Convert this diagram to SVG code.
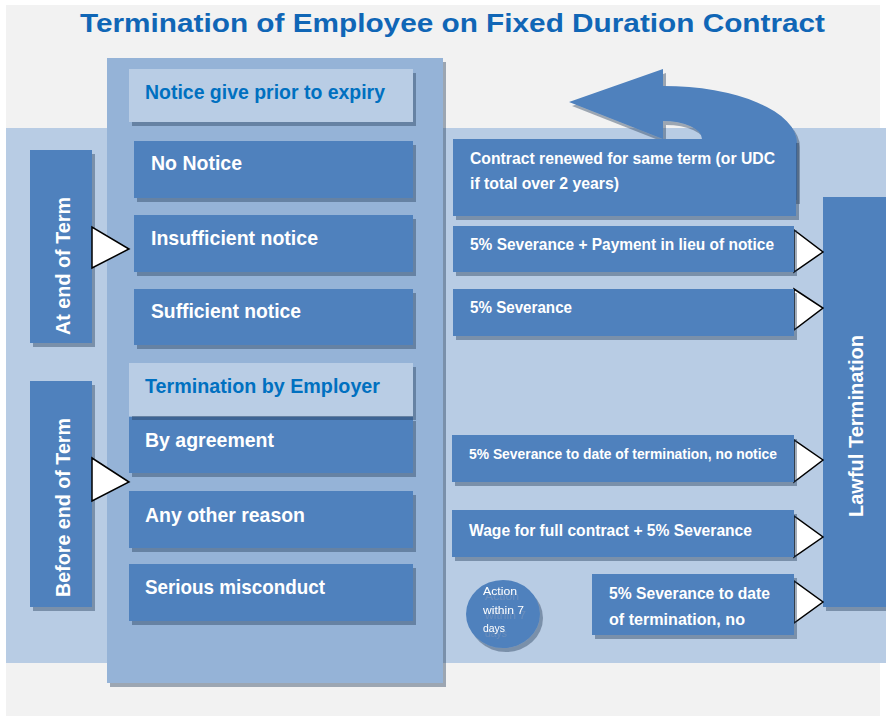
<svg xmlns="http://www.w3.org/2000/svg" width="886" height="719" viewBox="0 0 886 719">
<defs>
<filter id="sh" x="-10%" y="-10%" width="125%" height="130%">
<feOffset in="SourceAlpha" dx="3" dy="4" result="o"/>
<feFlood flood-color="#2a3d5a" flood-opacity="0.42"/>
<feComposite in2="o" operator="in"/>
<feMerge><feMergeNode/><feMergeNode in="SourceGraphic"/></feMerge>
</filter>
<filter id="tsh" x="-20%" y="-20%" width="150%" height="160%">
<feOffset in="SourceGraphic" dx="2" dy="5" result="o"/>
<feColorMatrix in="o" type="matrix" values="0 0 0 0 0.2  0 0 0 0 0.3  0 0 0 0 0.5  0 0 0 0.6 0" result="c"/>
<feMerge><feMergeNode in="c"/><feMergeNode in="SourceGraphic"/></feMerge>
</filter>
</defs>
<style>
.box{fill:#4f81bd;filter:url(#sh)}
.hdr{fill:#b9cde5;filter:url(#sh)}
.tri{fill:#ffffff;stroke:#000000;stroke-width:1.5;stroke-linejoin:miter}
text{font-family:"Liberation Sans",Arial,sans-serif;font-weight:bold}
.w{fill:#ffffff}
.b{fill:#0070c0}
.l{font-size:20.5px}
.r{font-size:16.5px}
.s{font-size:14.5px}
.h{font-size:20px}
.n{font-weight:normal;font-size:11.5px}
</style>
<rect x="0" y="0" width="886" height="719" fill="#ffffff"/>
<rect x="6" y="5" width="874" height="711" fill="#f2f2f2"/>
<rect x="6" y="128" width="880" height="535" fill="#b8cce4"/>
<text x="80" y="32" font-size="25.5" fill="#1066b6" textLength="745" lengthAdjust="spacingAndGlyphs">Termination of Employee on Fixed Duration Contract</text>

<g id="panel"><rect x="107" y="58" width="336" height="625" fill="#95b3d7" filter="url(#sh)"/></g>

<g id="notice-header"><rect class="hdr" x="129" y="69" width="284" height="53"/><text class="b h" x="145" y="99" textLength="240" lengthAdjust="spacingAndGlyphs">Notice give prior to expiry</text></g>
<g id="no-notice"><rect class="box" x="134" y="141" width="279" height="57"/><text class="w l" x="151" y="170" textLength="91" lengthAdjust="spacingAndGlyphs">No Notice</text></g>
<g id="insufficient"><rect class="box" x="134" y="215" width="279" height="57"/><text class="w l" x="151" y="245" textLength="167" lengthAdjust="spacingAndGlyphs">Insufficient notice</text></g>
<g id="sufficient"><rect class="box" x="134" y="289" width="279" height="56"/><text class="w l" x="151" y="318" textLength="150" lengthAdjust="spacingAndGlyphs">Sufficient notice</text></g>

<g id="agreement"><rect class="box" x="129" y="417" width="284" height="56"/><text class="w l" x="145" y="447" textLength="129" lengthAdjust="spacingAndGlyphs">By agreement</text></g>
<g id="employer-header"><rect class="hdr" x="129" y="363" width="284" height="53"/><text class="b h" x="145" y="393" textLength="235" lengthAdjust="spacingAndGlyphs">Termination by Employer</text></g>
<g id="other-reason"><rect class="box" x="129" y="491" width="284" height="57"/><text class="w l" x="145" y="522" textLength="160" lengthAdjust="spacingAndGlyphs">Any other reason</text></g>
<g id="misconduct"><rect class="box" x="129" y="564" width="284" height="57"/><text class="w l" x="145" y="594" textLength="180" lengthAdjust="spacingAndGlyphs">Serious misconduct</text></g>

<g id="at-end"><rect class="box" x="30" y="150" width="62" height="193"/><text class="w l" transform="translate(70,335) rotate(-90)" textLength="138" lengthAdjust="spacingAndGlyphs">At end of Term</text></g>
<g id="before-end"><rect class="box" x="30" y="381" width="62" height="226"/><text class="w l" transform="translate(70,597) rotate(-90)" textLength="179" lengthAdjust="spacingAndGlyphs">Before end of Term</text></g>

<g id="lawful"><rect class="box" x="823" y="197" width="66" height="410"/><text class="w l" transform="translate(863,517) rotate(-90)" textLength="182" lengthAdjust="spacingAndGlyphs">Lawful Termination</text></g>

<g id="connectors">
<path class="box" d="M569 102 L663 69 L663 86 A134 57 0 0 1 797 143 L797 200 L702 200 L702 139 A39 18 0 0 0 663 121 L663 139 Z"/>
<polygon class="tri" points="92,227 92,268 129,249"/>
<polygon class="tri" points="92,458 92,501 129,482"/>
<polygon class="tri" points="794,230 794,272 823,252"/>
<polygon class="tri" points="794,289 794,330 823,308"/>
<polygon class="tri" points="794,440 794,482 823,460"/>
<polygon class="tri" points="794,516 794,557 823,537"/>
<polygon class="tri" points="794,581 794,623 823,602"/>
</g>

<g id="renewed"><rect class="box" x="453" y="139" width="343" height="77"/><text class="w r" x="470" y="164" textLength="305" lengthAdjust="spacingAndGlyphs">Contract renewed for same term (or UDC</text><text class="w r" x="470" y="189" textLength="149" lengthAdjust="spacingAndGlyphs">if total over 2 years)</text></g>
<g id="sev-pilon"><rect class="box" x="453" y="226" width="341" height="46"/><text class="w r" x="470" y="250" textLength="304" lengthAdjust="spacingAndGlyphs">5% Severance + Payment in lieu of notice</text></g>
<g id="sev"><rect class="box" x="453" y="289" width="341" height="47"/><text class="w r" x="470" y="313" textLength="102" lengthAdjust="spacingAndGlyphs">5% Severance</text></g>
<g id="sev-date-nonotice"><rect class="box" x="452" y="435" width="342" height="47"/><text class="w s" x="469" y="459" textLength="308" lengthAdjust="spacingAndGlyphs">5% Severance to date of termination, no notice</text></g>
<g id="wage-full"><rect class="box" x="452" y="510" width="342" height="47"/><text class="w r" x="469" y="536" textLength="283" lengthAdjust="spacingAndGlyphs">Wage for full contract + 5% Severance</text></g>
<g id="sev-date-no"><rect class="box" x="592" y="574" width="202" height="61"/><text class="w r" x="609" y="599" textLength="161" lengthAdjust="spacingAndGlyphs">5% Severance to date</text><text class="w r" x="609" y="625" textLength="136" lengthAdjust="spacingAndGlyphs">of termination, no</text></g>

<g id="action"><ellipse cx="503" cy="614" rx="37" ry="34" fill="#4f81bd" filter="url(#sh)"/>
<g filter="url(#tsh)"><text class="w n" x="483" y="595" textLength="34" lengthAdjust="spacingAndGlyphs">Action</text><text class="w n" x="483" y="614" textLength="41" lengthAdjust="spacingAndGlyphs">within 7</text><text class="w n" x="483" y="632" textLength="22" lengthAdjust="spacingAndGlyphs">days</text></g></g>
</svg>
